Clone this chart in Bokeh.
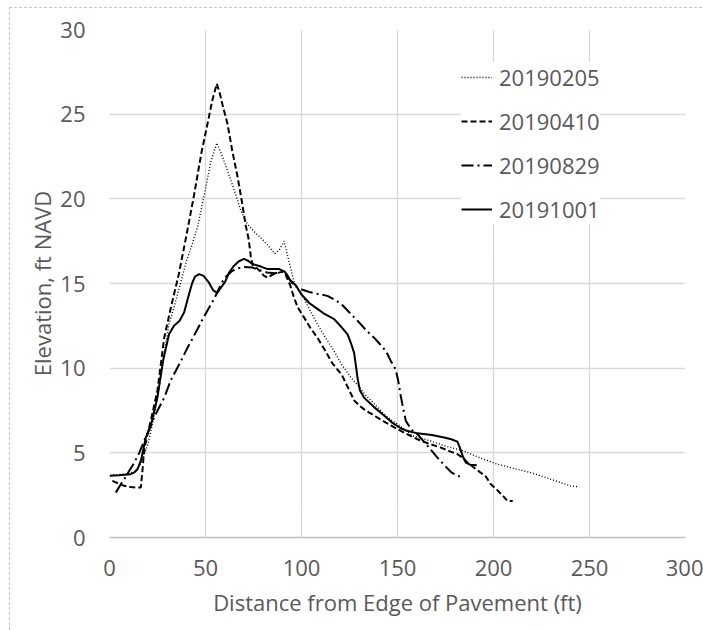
from bokeh.plotting import figure
from bokeh.models import FixedTicker, Legend, LegendItem, Range1d
from bokeh.embed import file_html
from bokeh.resources import INLINE

# ---- data ----
x_0205 = [2, 9, 13, 16.3, 20, 23, 26, 29, 31, 33.6, 36, 40, 43, 45.8, 48, 50, 52.8, 55.9,
          58.5, 61.5, 65, 68.4, 71.9, 75, 78.8, 82.5, 86.1, 88.5, 90.9, 93.5, 96.5, 100,
          104, 108.3, 112.5, 117, 121, 125.7, 130, 133, 137, 142, 146, 150, 158, 167.3,
          175, 184.7, 193, 202, 210, 219.4, 227, 235, 240, 244.6]
y_0205 = [3.7, 3.75, 3.9, 4.33, 5.5, 7.0, 9.0, 11.2, 12.6, 13.6, 14.6, 16.3, 17.3, 18.3,
          19.5, 20.6, 22.2, 23.3, 22.6, 21.65, 20.5, 19.3, 18.5, 18.1, 17.7, 17.25, 16.77,
          17.0, 17.5, 16.3, 14.9, 14.4, 13.5, 12.6, 11.8, 11.0, 10.2, 9.45, 8.9, 8.45, 8.0,
          7.4, 7.0, 6.7, 6.0, 5.7, 5.4, 5.1, 4.7, 4.33, 4.1, 3.83, 3.55, 3.24, 3.05, 2.99]

x_0410 = [1.5, 4.5, 7.6, 11, 14.6, 16.3, 17.2, 18, 19.2, 21.5, 25, 28.5, 32, 36, 40, 44,
          48, 51, 53.5, 55.9, 57.5, 59, 61.5, 64, 66.7, 69, 71, 72.5, 73.6, 74.5, 77.8,
          80.5, 82.4, 84.5, 86.6, 90.6, 91.8, 94.1, 96.1, 98, 101.3, 104.5, 108.3, 112,
          116, 121, 124, 127.4, 130, 132.8, 137.8, 143, 150, 155, 160.4, 166, 172.6, 177,
          181.3, 184, 186.5, 191.3, 196, 198.6, 202, 205.4, 207.3, 210]
y_0410 = [3.34, 3.2, 3.05, 2.98, 2.95, 2.95, 4.0, 5.1, 5.8, 6.9, 8.7, 11.8, 13.6, 15.5,
          17.8, 20.2, 22.8, 24.4, 25.8, 26.8, 26.2, 25.5, 24.4, 22.8, 21.3, 19.8, 18.4,
          17.6, 16.6, 16.1, 15.8, 15.45, 15.35, 15.5, 15.6, 15.7, 15.5, 14.9, 14.17, 13.6,
          13.0, 12.4, 11.8, 11.1, 10.3, 9.6, 8.9, 8.1, 7.8, 7.55, 7.2, 6.85, 6.4, 6.1, 5.8,
          5.55, 5.31, 5.1, 4.92, 4.7, 4.42, 4.0, 3.6, 3.15, 2.8, 2.4, 2.16, 2.16]

x_0829 = [3.3, 5.9, 8, 10.2, 12.8, 15.5, 18, 20, 22.4, 25.5, 28.5, 32, 37.1, 40.6, 45.8,
          49, 52, 54.5, 56.2, 58.8, 61, 64, 67, 70, 74.5, 78, 82, 86, 90, 92, 94, 96,
          99.6, 104, 108, 113.5, 118, 121.5, 125.7, 130, 134, 137.8, 141, 144, 146.5, 149,
          150.3, 151.7, 153, 154.3, 157, 160.4, 165, 170.8, 175, 178, 181.3, 182.5]
y_0829 = [2.65, 3.15, 3.5, 3.93, 4.4, 5.0, 5.7, 6.2, 6.9, 7.6, 8.26, 9.3, 10.4, 11.2, 12.3,
          13.0, 13.6, 14.1, 14.5, 15.1, 15.45, 15.75, 15.9, 15.98, 15.94, 15.8, 15.65, 15.6,
          15.7, 15.6, 15.2, 14.9, 14.67, 14.5, 14.4, 14.27, 14.0, 13.7, 13.2, 12.7, 12.2,
          11.8, 11.4, 11.0, 10.43, 9.94, 9.3, 8.36, 7.6, 6.9, 6.4, 6.1, 5.5, 4.72, 4.2,
          3.85, 3.64, 3.6]

x_1001 = [0, 5, 11, 13, 14.6, 16.5, 18.9, 21.5, 25, 28, 31, 33.6, 36.5, 38.9, 41, 43, 44.5,
          46.7, 49, 51.5, 54, 56.2, 58, 60.2, 62.3, 64.5, 67.2, 70.1, 72, 74.5, 78.9, 82.3,
          88.3, 91.3, 94, 97, 100, 104, 108.3, 112, 117, 121, 124, 126, 127.4, 128.5, 129.2,
          130.4, 132.6, 134, 137.8, 143, 147, 151.7, 155, 160.4, 167.9, 174.3, 178, 181.2,
          182.5, 184, 185.6, 187.8, 191.3]
y_1001 = [3.65, 3.68, 3.74, 3.85, 4.03, 4.6, 5.9, 6.6, 8.3, 10.5, 12.0, 12.5, 12.8, 13.3,
          14.2, 15.0, 15.4, 15.55, 15.45, 15.1, 14.6, 14.45, 14.75, 15.1, 15.65, 16.0, 16.3,
          16.45, 16.35, 16.15, 16.0, 15.85, 15.85, 15.7, 15.2, 14.9, 14.35, 13.85, 13.5,
          13.2, 12.9, 12.4, 12.0, 11.4, 10.9, 10.0, 9.4, 8.7, 8.26, 8.1, 7.7, 7.2, 6.8,
          6.45, 6.3, 6.15, 6.05, 5.9, 5.8, 5.66, 5.3, 4.8, 4.42, 4.3, 4.27]

series_names = ["20190205", "20190410", "20190829", "20191001"]
x_ticks = [0, 50, 100, 150, 200, 250, 300]
y_ticks = [0, 5, 10, 15, 20, 25, 30]

FONT = "Open Sans"
TXT = "#595959"
FS = "22px"

p = figure(width=703, height=630, output_backend="svg", toolbar_location=None,
           x_range=Range1d(0, 300), y_range=Range1d(0, 30),
           min_border_left=109, min_border_right=18, min_border_top=29,
           min_border_bottom=93)
p.outline_line_color = None
p.background_fill_color = "white"
p.border_fill_color = "white"
p.border_fill_alpha = 0.0
# faint dashed chart-area border (left and top edges visible in the reference)
p.styles = {
    "background": (
        "repeating-linear-gradient(to bottom, #c4c4c4 0px, #c4c4c4 3px, transparent 3px, transparent 5px)"
        " 9px 7px / 1px 100% no-repeat, "
        "repeating-linear-gradient(to right, #c4c4c4 0px, #c4c4c4 3px, transparent 3px, transparent 5px)"
        " 9px 7px / 100% 1px no-repeat, white"
    )
}

for ax in (p.xaxis[0], p.yaxis[0]):
    ax.major_tick_line_color = None
    ax.minor_tick_line_color = None
    ax.major_tick_out = 0
    ax.major_tick_in = 0
    ax.major_label_text_font = FONT
    ax.major_label_text_font_size = FS
    ax.major_label_text_color = TXT
    ax.axis_label_text_font = FONT
    ax.axis_label_text_font_size = FS
    ax.axis_label_text_color = TXT
    ax.axis_label_text_font_style = "normal"

p.xaxis[0].ticker = FixedTicker(ticks=x_ticks)
p.yaxis[0].ticker = FixedTicker(ticks=y_ticks)
p.xaxis[0].axis_line_color = "#bfbfbf"
p.xaxis[0].axis_line_width = 1.5
p.yaxis[0].axis_line_color = None
p.xaxis[0].major_label_standoff = 22
p.yaxis[0].major_label_standoff = 24
p.xaxis[0].axis_label = "Distance from Edge of Pavement (ft)"
p.yaxis[0].axis_label = "Elevation, ft NAVD"
p.xaxis[0].axis_label_standoff = 8
p.yaxis[0].axis_label_standoff = 0

p.xgrid[0].ticker = FixedTicker(ticks=x_ticks)
p.ygrid[0].ticker = FixedTicker(ticks=y_ticks)
for g in (p.xgrid[0], p.ygrid[0]):
    g.grid_line_color = "#d9d9d9"
    g.grid_line_width = 1.3

r1 = p.line(x_0205, y_0205, line_color="black", line_width=1.4, line_dash="1 2")
r2 = p.line(x_0410, y_0410, line_color="black", line_width=2, line_dash="6 3")
r3 = p.line(x_0829, y_0829, line_color="black", line_width=2, line_dash="12 4 2 4")
r4 = p.line(x_1001, y_1001, line_color="black", line_width=2)

legend = Legend(items=[LegendItem(label=n, renderers=[r]) for n, r in
                       zip(series_names, [r1, r2, r3, r4])],
                location=(352, 313))
legend.border_line_color = None
legend.background_fill_color = "white"
legend.background_fill_alpha = 1.0
legend.padding = 11
legend.spacing = 14
legend.glyph_width = 31
legend.glyph_height = 30
legend.label_height = 30
legend.label_standoff = 7
legend.label_text_font = FONT
legend.label_text_font_size = FS
legend.label_text_color = TXT
legend.margin = 0
p.add_layout(legend, "center")

open("out.html", "w").write(file_html(p, INLINE))
